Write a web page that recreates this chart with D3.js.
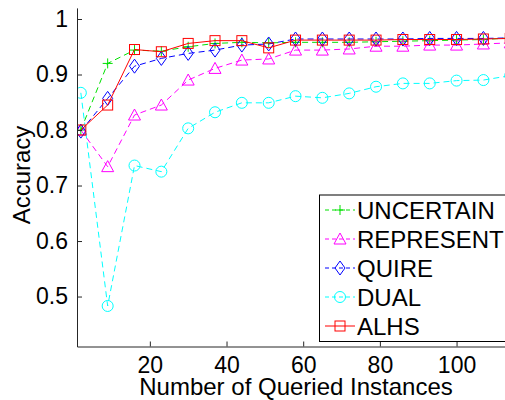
<!DOCTYPE html>
<html>
<head>
<meta charset="utf-8">
<script src="https://cdn.jsdelivr.net/npm/d3@7"></script>
<style>
  body { margin: 0; background: #fff; }
  svg { display: block; font-family: "Liberation Sans", Arial, sans-serif; }
</style>
</head>
<body>
<svg id="chart" width="505" height="400"></svg>
<script>
const queried = [2, 9, 16, 23, 30, 37, 44, 51, 58, 65, 72, 79, 86, 93, 100, 107, 114];

const uncertain = [0.8, 0.92, 0.944, 0.942, 0.95, 0.956, 0.958, 0.957, 0.958, 0.958, 0.958, 0.959, 0.96, 0.961, 0.962, 0.963, 0.966];
const represent = [0.8, 0.734, 0.827, 0.845, 0.89, 0.911, 0.926, 0.928, 0.944, 0.944, 0.946, 0.951, 0.951, 0.953, 0.953, 0.955, 0.957];
const quire = [0.798, 0.857, 0.915, 0.929, 0.938, 0.944, 0.953, 0.955, 0.964, 0.964, 0.964, 0.964, 0.964, 0.965, 0.965, 0.965, 0.966];
const dual = [0.867, 0.483, 0.736, 0.725, 0.803, 0.832, 0.849, 0.849, 0.861, 0.858, 0.866, 0.878, 0.884, 0.884, 0.889, 0.89, 0.898];
const alhs = [0.8, 0.845, 0.945, 0.941, 0.956, 0.961, 0.961, 0.948, 0.962, 0.962, 0.962, 0.962, 0.963, 0.963, 0.963, 0.964, 0.965];

const xTicks = [20, 40, 60, 80, 100];
const yTicks = [0.5, 0.6, 0.7, 0.8, 0.9, 1];

const series = [
  { name: "UNCERTAIN", values: uncertain, color: "#00e000", dash: "6,4", marker: "plus" },
  { name: "REPRESENT", values: represent, color: "#ff00ff", dash: "6,4", marker: "triangle" },
  { name: "QUIRE", values: quire, color: "#0000ff", dash: "6,4", marker: "diamond" },
  { name: "DUAL", values: dual, color: "#00ffff", dash: "6,4", marker: "circle" },
  { name: "ALHS", values: alhs, color: "#ff0000", dash: null, marker: "square" },
];

const svg = d3.select("#chart");
const axisColor = "#262626";

const x = d3.scaleLinear().domain([1, 113]).range([77, 506.4]);
const y = d3.scaleLinear().domain([0.41, 1.02]).range([346.5, 7.9]);

svg.append("defs").append("clipPath").attr("id", "plotclip")
  .append("rect")
  .attr("x", x.range()[0]).attr("y", y.range()[1])
  .attr("width", x.range()[1] - x.range()[0])
  .attr("height", y.range()[0] - y.range()[1]);

function drawMarker(g, type, color) {
  if (type == "plus") {
    g.append("path").attr("d", "M-5,0H5M0,-5V5");
  } else if (type == "triangle") {
    g.append("path").attr("d", "M0,-6L6,5H-6Z");
  } else if (type == "diamond") {
    g.append("path").attr("d", "M0,-7L5,0L0,7L-5,0Z");
  } else if (type == "circle") {
    g.append("circle").attr("r", 5.5);
  } else if (type == "square") {
    g.append("rect").attr("x", -5).attr("y", -5).attr("width", 10).attr("height", 10);
  }
  g.selectAll("*").attr("fill", "none").attr("stroke", color).attr("stroke-width", 1);
}

const plot = svg.append("g").attr("clip-path", "url(#plotclip)");

const line = d3.line()
  .x((d, i) => x(queried[i]))
  .y(d => y(d));

for (const s of series) {
  plot.append("path")
    .attr("d", line(s.values))
    .attr("fill", "none")
    .attr("stroke", s.color)
    .attr("stroke-width", 1)
    .attr("stroke-dasharray", s.dash);

  plot.append("g")
    .selectAll("g")
    .data(s.values)
    .join("g")
    .attr("transform", (d, i) => `translate(${x(queried[i])},${y(d)})`)
    .each(function () { drawMarker(d3.select(this), s.marker, s.color); });
}

// axes, MATLAB style with inward ticks
const xAxis = svg.append("g")
  .attr("transform", `translate(0,${y.range()[0]})`)
  .call(d3.axisBottom(x).tickValues(xTicks).tickSizeInner(-5).tickSizeOuter(0).tickPadding(10));
const yAxis = svg.append("g")
  .attr("transform", `translate(${x.range()[0]},0)`)
  .call(d3.axisLeft(y).tickValues(yTicks).tickFormat(d3.format("")).tickSizeInner(-5).tickSizeOuter(0).tickPadding(9));

for (const ax of [xAxis, yAxis]) {
  ax.select(".domain").attr("stroke", axisColor);
  ax.selectAll(".tick line").attr("stroke", axisColor);
  ax.selectAll(".tick text")
    .attr("fill", "#000")
    .style("font-family", "Liberation Sans, Arial, sans-serif")
    .style("font-size", "23px");
}

svg.append("text")
  .attr("x", 296)
  .attr("y", 395)
  .attr("text-anchor", "middle")
  .style("font-size", "24px")
  .text("Number of Queried Instances");

svg.append("text")
  .attr("transform", "translate(30,175) rotate(-90)")
  .attr("text-anchor", "middle")
  .style("font-size", "24px")
  .text("Accuracy");

// legend
const legend = svg.append("g");
legend.append("rect")
  .attr("x", 319.5).attr("y", 195)
  .attr("width", 200).attr("height", 146.5)
  .attr("fill", "#fff")
  .attr("stroke", "#000")
  .attr("stroke-width", 1);

series.forEach((s, i) => {
  const row = legend.append("g").attr("transform", `translate(0,${210 + i * 29})`);
  row.append("line")
    .attr("x1", 325).attr("x2", 355)
    .attr("stroke", s.color)
    .attr("stroke-width", 1)
    .attr("stroke-dasharray", s.dash ? "4,3" : null);
  const m = row.append("g").attr("transform", "translate(340,0)");
  drawMarker(m, s.marker, s.color);
  row.append("text")
    .attr("x", 357)
    .attr("y", 8.5)
    .style("font-size", "24px")
    .text(s.name);
});
</script>
</body>
</html>
